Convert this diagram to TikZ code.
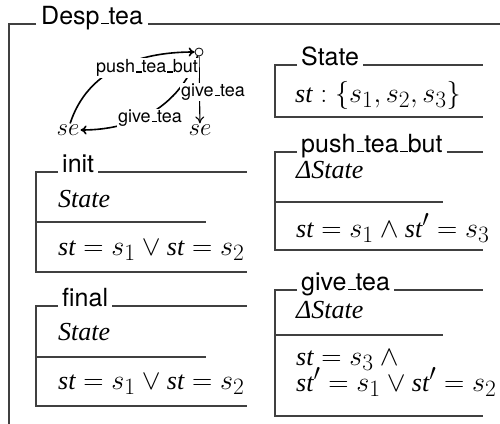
\documentclass[tikz,border=0pt]{standalone}
\usepackage{fontspec}
\usepackage{graphicx}
\usetikzlibrary{arrows.meta}
\newfontfamily\hv{TeX Gyre Heros}
\newfontfamily\tim{Liberation Serif}
\newcommand\us{\kern.06em\vbox{\hrule width .3em height 1.5pt}}
\newcommand\zi[1]{\mbox{\tim\itshape\fontsize{26}{30}\selectfont #1}}
\newcommand\zs[1]{\mbox{\tim\itshape\fontsize{23}{27}\selectfont #1}}
\newcommand\zm[1]{\scalebox{1.13}{$#1$}}
\tikzset{
  frame/.style={line width=1.1pt, draw=black!75},
  ttl/.style={font=\hv\fontsize{25}{30}\selectfont, inner sep=0pt, anchor=base west},
  zt/.style={font=\fontsize{24.88}{30}\selectfont, inner sep=0pt, anchor=base west},
  edge/.style={line width=1.6pt, -{To[length=6pt,width=9pt]}},
  edgethin/.style={line width=1.1pt, -{To[length=7pt,width=9pt]}},
  elbl/.style={font=\hv\fontsize{18}{20}\selectfont, fill=white, inner sep=1pt},
}
% name, left, top, bottom, right, title
\newcommand\schema[6]{%
  \node[ttl] (#1) at (#2+26,-#3) {#6};
  \draw[frame] ([xshift=-4pt]#1.base west) -- (#2,-#3) -- (#2,-#4) -- (#5,-#4);
  \draw[frame] ([xshift=4pt]#1.base east) -- (#5,-#3);
}
\begin{document}
\begin{tikzpicture}[x=1pt,y=1pt]
\useasboundingbox (0,0) rectangle (500,-423);
% outer schema
\node[ttl] (T) at (41,-24) {Desp\us tea};
\draw[frame] ([xshift=-5pt]T.base west) -- (9,-24) -- (9,-430);
\draw[frame] ([xshift=5pt]T.base east) -- (505,-24);

% state graph
\node[draw, circle, inner sep=0pt, minimum size=8pt, line width=0.8pt] (c) at (199,-52) {};
\node[font=\fontsize{24.88}{30}\selectfont, inner sep=1pt] (sL) at (68,-130) {$se$};
\node[font=\fontsize{24.88}{30}\selectfont, inner sep=1pt] (sR) at (200,-130) {$se$};
\draw[edge] (sL) to[out=72,in=180] (c);
\draw[edge] (c) to[out=-110,in=0] (sL);
\draw[edgethin] (c) -- (sR);
\node[elbl] (l1) at (147,-68) {push\us tea\us but};
\node[elbl] (l2) at (150,-118) {give\us tea};
\node[elbl] (l3) at (213,-92) {give\us tea};

% init
\schema{init}{36}{172}{272}{247}{init}
\draw[frame] (36,-222) -- (206,-222);
\node[zt] (initA) at (58,-207) {\zi{State}};
\node[zt] (initB) at (58,-255) {\zm{\zs{st} = s_1 \vee \zs{st} = s_2}};

% final
\schema{final}{36}{306}{406}{247}{final}
\draw[frame] (36,-357) -- (206,-357);
\node[zt] (finA) at (58,-340) {\zi{State}};
\node[zt] (finB) at (58,-389) {\zm{\zs{st} = s_1 \vee \zs{st} = s_2}};

% State
\schema{st}{275}{65}{117}{483}{State}
\node[zt] (stA) at (295,-102) {\zm{\zs{st} : \{s_1, s_2, s_3\}}};

% push_tea_but
\schema{push}{275}{152}{250}{483}{push\us tea\us but}
\draw[frame] (275,-202) -- (443,-202);
\node[zt] (pushA) at (296,-178) {\zi{ΔState}};
\node[zt] (pushB) at (296,-237) {\zm{\zs{st} = s_1 \wedge \zs{st}' = s_3}};

% give_tea
\schema{give}{275}{290}{416}{483}{give\us tea}
\draw[frame] (275,-335) -- (443,-335);
\node[zt] (giveA) at (296,-318) {\zi{ΔState}};
\node[zt] (giveB) at (296,-365) {\zm{\zs{st} = s_3 \wedge{}}};
\node[zt] (giveC) at (296,-391) {\zm{\zs{st}' = s_1 \vee \zs{st}' = s_2}};
\end{tikzpicture}
\end{document}
